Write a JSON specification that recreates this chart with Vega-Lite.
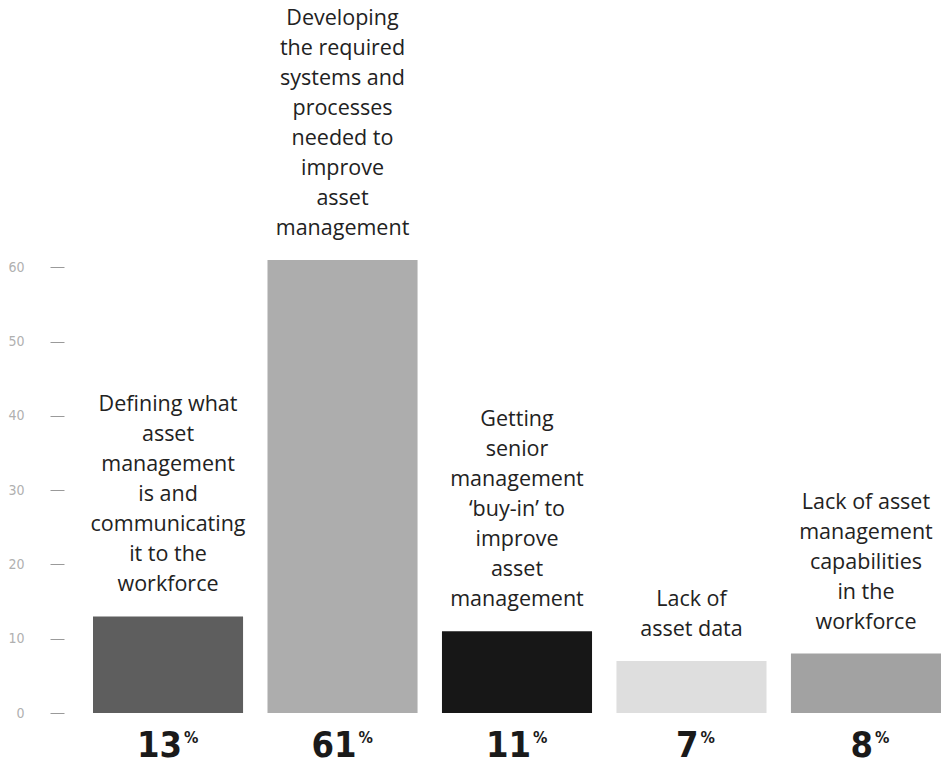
{
  "$schema": "https://vega.github.io/schema/vega-lite/v6.json",
  "width": 848,
  "height": 453,
  "autosize": "none",
  "padding": {"left": 93, "top": 260, "right": 4, "bottom": 57},
  "background": "white",
  "config": {"view": {"stroke": null}},
  "data": {
    "values": [
      {"cat": "A", "label": ["Defining what", "asset", "management", "is and", "communicating", "it to the", "workforce"], "value": 13, "color": "#5e5e5e"},
      {"cat": "B", "label": ["Developing", "the required", "systems and", "processes", "needed to", "improve", "asset", "management"], "value": 61, "color": "#adadad"},
      {"cat": "C", "label": ["Getting", "senior", "management", "‘buy-in’ to", "improve", "asset", "management"], "value": 11, "color": "#171717"},
      {"cat": "D", "label": ["Lack of", "asset data"], "value": 7, "color": "#dedede"},
      {"cat": "E", "label": ["Lack of asset", "management", "capabilities", "in the", "workforce"], "value": 8, "color": "#a2a2a2"}
    ]
  },
  "encoding": {
    "x": {"field": "cat", "type": "nominal", "sort": null,
      "scale": {"paddingInner": 0.14, "paddingOuter": 0},
      "axis": null}
  },
  "layer": [
    {
      "mark": {"type": "bar"},
      "encoding": {
        "y": {"field": "value", "type": "quantitative",
          "scale": {"domain": [0, 61], "nice": false, "zero": true},
          "axis": {"values": [0, 10, 20, 30, 40, 50, 60], "domain": false, "grid": false,
            "offset": 29, "tickSize": 14, "tickColor": "#9a9a9a", "tickWidth": 1,
            "labelPadding": 26, "labelColor": "#b0b0b0", "labelFontSize": 14,
            "labelFont": "DejaVu Sans Condensed", "title": null}},
        "color": {"field": "color", "type": "nominal", "scale": null}
      }
    },
    {
      "mark": {"type": "text", "baseline": "bottom", "align": "center",
        "dy": {"expr": "-(length(datum.label) - 1) * 30 - 20"},
        "font": "Open Sans", "fontSize": 21.5, "lineHeight": 30, "color": "#222222"},
      "encoding": {
        "y": {"field": "value", "type": "quantitative"},
        "text": {"field": "label", "type": "nominal"}
      }
    },
    {
      "transform": [{"filter": "datum.value >= 10"}],
      "mark": {"type": "text", "baseline": "middle", "align": "right", "dx": 14, "dy": 33,
        "font": "DejaVu Sans Condensed", "fontWeight": "bold", "fontSize": 36, "color": "#1a1a1a"},
      "encoding": {
        "y": {"datum": 0, "type": "quantitative"},
        "text": {"field": "value", "type": "quantitative"}
      }
    },
    {
      "transform": [{"filter": "datum.value < 10"}],
      "mark": {"type": "text", "baseline": "middle", "align": "right", "dx": 7, "dy": 33,
        "font": "DejaVu Sans Condensed", "fontWeight": "bold", "fontSize": 36, "color": "#1a1a1a"},
      "encoding": {
        "y": {"datum": 0, "type": "quantitative"},
        "text": {"field": "value", "type": "quantitative"}
      }
    },
    {
      "transform": [{"filter": "datum.value >= 10"}],
      "mark": {"type": "text", "baseline": "middle", "align": "left", "dx": 16, "dy": 25,
        "font": "DejaVu Sans Condensed", "fontWeight": "bold", "fontSize": 16, "color": "#1a1a1a", "text": "%"},
      "encoding": {
        "y": {"datum": 0, "type": "quantitative"}
      }
    },
    {
      "transform": [{"filter": "datum.value < 10"}],
      "mark": {"type": "text", "baseline": "middle", "align": "left", "dx": 9, "dy": 25,
        "font": "DejaVu Sans Condensed", "fontWeight": "bold", "fontSize": 16, "color": "#1a1a1a", "text": "%"},
      "encoding": {
        "y": {"datum": 0, "type": "quantitative"}
      }
    }
  ]
}
